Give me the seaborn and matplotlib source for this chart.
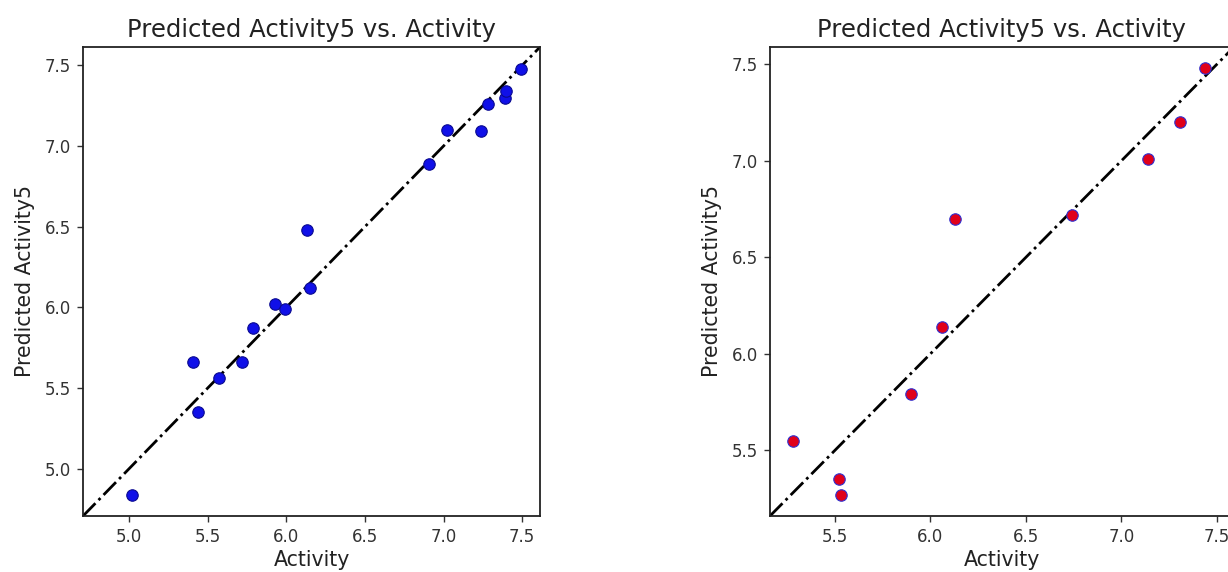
import matplotlib
matplotlib.use("Agg")
import matplotlib.pyplot as plt
import seaborn as sns
import numpy as np

# Training set: observed vs. predicted activity
train_activity = [5.02, 5.41, 5.44, 5.57, 5.72, 5.79, 5.93, 5.99, 6.13, 6.15,
                  6.91, 7.02, 7.24, 7.28, 7.39, 7.40, 7.49]
train_predicted = [4.84, 5.66, 5.35, 5.56, 5.66, 5.87, 6.02, 5.99, 6.48, 6.12,
                   6.89, 7.10, 7.09, 7.26, 7.30, 7.34, 7.48]

# Test set: observed vs. predicted activity
test_activity = [5.28, 5.52, 5.53, 5.90, 6.06, 6.13, 6.74, 7.14, 7.31, 7.44]
test_predicted = [5.55, 5.35, 5.27, 5.79, 6.14, 6.70, 6.72, 7.01, 7.20, 7.48]

title = "Predicted Activity5 vs. Activity"
xlabel = "Activity"
ylabel = "Predicted Activity5"
ticks = [5.0, 5.5, 6.0, 6.5, 7.0, 7.5]


def shared_limits(x, y, margin=0.05):
    x = np.asarray(x); y = np.asarray(y)
    xr = x.max() - x.min(); yr = y.max() - y.min()
    lo = min(x.min() - margin * xr, y.min() - margin * yr)
    hi = max(x.max() + margin * xr, y.max() + margin * yr)
    return lo, hi


def draw(ax, x, y, face, edge):
    lo, hi = shared_limits(x, y)
    sns.scatterplot(x=x, y=y, ax=ax, color=face, edgecolor=edge, s=68,
                    linewidth=0.8, zorder=3)
    sns.lineplot(x=[lo, hi], y=[lo, hi], ax=ax, color="black",
                 linestyle="-.", linewidth=2.0, zorder=2)
    ax.set_title(title, fontsize=17.5, color="#222222", pad=7)
    ax.set_xlabel(xlabel, fontsize=14.8, color="#222222", labelpad=3)
    ax.set_ylabel(ylabel, fontsize=14.8, color="#222222", labelpad=7)
    ax.set_xticks(ticks)
    ax.set_yticks(ticks)
    ax.set_xlim(lo, hi)
    ax.set_ylim(lo, hi)
    ax.tick_params(labelsize=12, colors="#333333", length=4.5, width=1,
                   pad=4)
    for sp in ax.spines.values():
        sp.set_color("#222222")
        sp.set_linewidth(1.3)


fig = plt.figure(figsize=(12.28, 5.72), dpi=100)
ax1 = fig.add_axes([0.0676, 0.0979, 0.3722, 0.820])
ax2 = fig.add_axes([0.627, 0.0979, 0.3779, 0.820])

draw(ax1, train_activity, train_predicted, "#1010e8", "#0a0a90")
draw(ax2, test_activity, test_predicted, "#e0001a", "#3030d0")

fig.savefig("out.png", dpi=100)
